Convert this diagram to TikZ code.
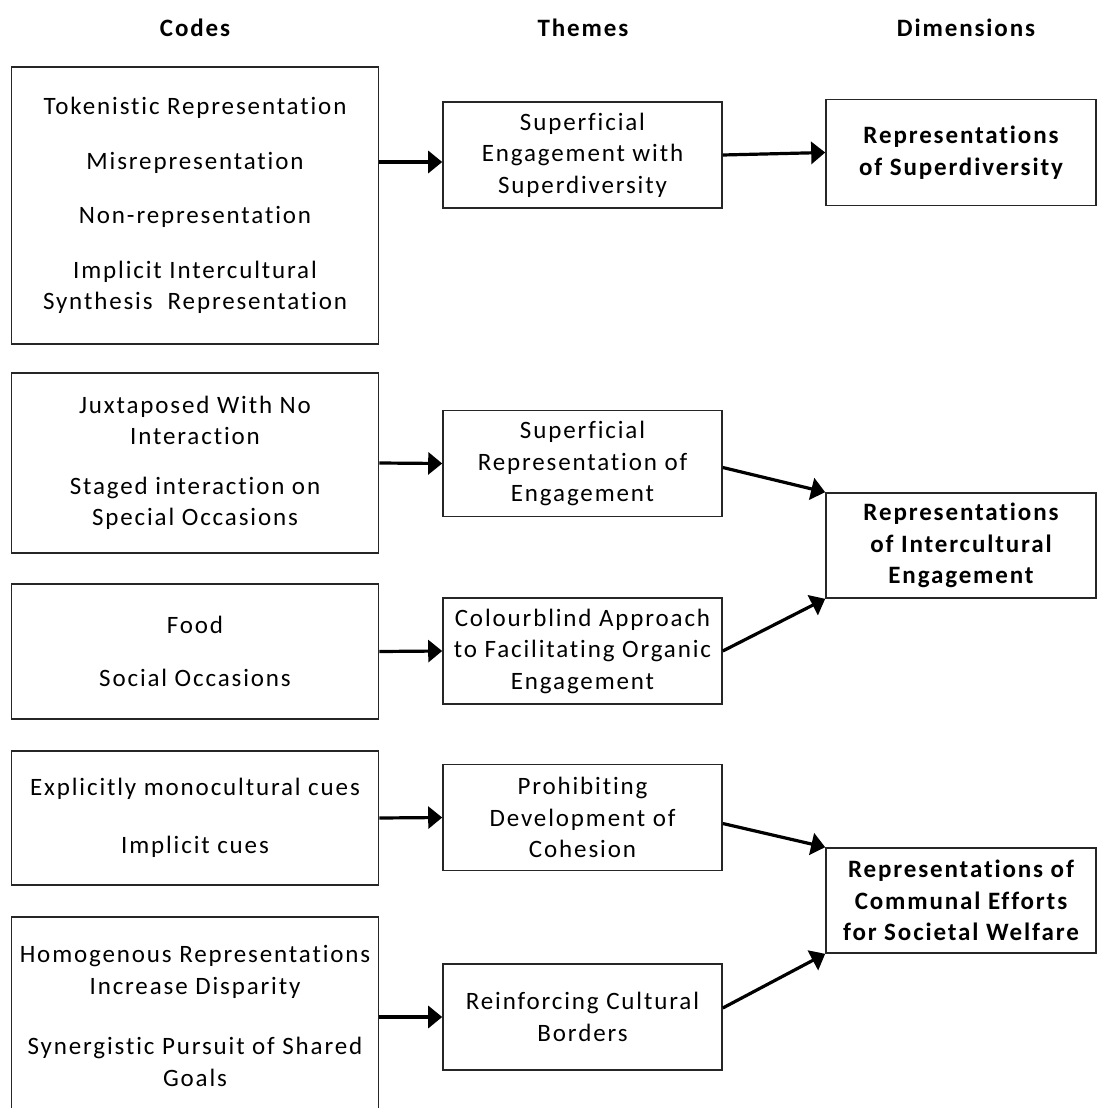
\documentclass[tikz,border=0pt]{standalone}
\usepackage{fontspec}
\setmainfont{Carlito}[LetterSpace=7.5, Ligatures={NoCommon,NoRare}]
\usetikzlibrary{arrows.meta}

\tikzset{
    box/.style={draw=black!85, line width=1.6pt, inner sep=0pt, align=center,
        font=\fontsize{25}{31.5}\selectfont},
    codebox/.style={box, minimum width=367pt},
    themebox/.style={box, minimum width=279pt, minimum height=106pt},
    dimbox/.style={box, minimum width=270pt, minimum height=106pt,
        font=\fontsize{25}{31.5}\selectfont\bfseries},
    header/.style={font=\fontsize{25}{30}\selectfont\bfseries},
    arr/.style={line width=3.2pt, -{Triangle[length=14pt,width=22pt]}}
}

\begin{document}
\begin{tikzpicture}[x=1pt, y=-1pt]
        % page size of the reference
        \useasboundingbox (0,0) rectangle (1097,1108);

        % Column headers
        \node[header] (hcodes) at (195,28) {Codes};
        \node[header] (hthemes) at (583,28) {Themes};
        \node[header] (hdims) at (966,28) {Dimensions};

        % Codes
        \node[codebox, minimum height=277pt] (C1) at (195,205.5)
            {Tokenistic Representation\\[23pt] Misrepresentation\\[23pt] Non-representation\\[23pt]
             Implicit Intercultural\\ Synthesis~ Representation};
        \node[codebox, minimum height=180pt] (C2) at (195,463)
            {Juxtaposed With No\\ Interaction\\[18pt] Staged interaction on\\ Special Occasions};
        \node[codebox, minimum height=135pt] (C3) at (195,651.5)
            {Food\\[22pt] Social Occasions};
        \node[codebox, minimum height=134pt] (C4) at (195,818)
            {Explicitly monocultural cues\\[27pt] Implicit cues};
        \node[codebox, minimum height=198pt] (C5) at (195,1016)
            {Homogenous Representations\\ Increase Disparity\\[29pt] Synergistic Pursuit of Shared\\ Goals};

        % Themes
        \node[themebox] (T1) at (582.5,155) {Superficial\\ Engagement with\\ Superdiversity};
        \node[themebox] (T2) at (582.5,463.5) {Superficial\\ Representation of\\ Engagement};
        \node[themebox] (T3) at (582.5,651) {Colourblind Approach\\ to Facilitating Organic\\ Engagement};
        \node[themebox] (T4) at (582.5,817.5) {Prohibiting\\ Development of\\ Cohesion};
        \node[themebox] (T5) at (582.5,1017) {Reinforcing Cultural\\ Borders};

        % Dimensions
        \node[dimbox] (D1) at (961,152.5) {Representations\\ of Superdiversity};
        \node[dimbox, minimum height=105pt] (D2) at (961,545.5) {Representations\\ of Intercultural\\ Engagement};
        \node[dimbox, minimum height=105pt] (D3) at (961,900.5) {Representations of\\ Communal Efforts\\ for Societal Welfare};

        % Codes to themes
        \draw[arr] ([yshift=-7pt]T1.west -| C1.east) -- ([yshift=-7pt]T1.west);
        \draw[arr] (C2.east) -- (T2.west);
        \draw[arr] (C3.east) -- (T3.west);
        \draw[arr] (C4.east) -- (T4.west);
        \draw[arr] (C5.east |- T5.west) -- (T5.west);

        % Themes to dimensions
        \draw[arr] (T1.east) -- (D1.west);
        \draw[arr] ([yshift=-4pt]T2.east) -- (D2.north west);
        \draw[arr] (T3.east) -- (D2.south west);
        \draw[arr] ([yshift=-6pt]T4.east) -- (D3.north west);
        \draw[arr] ([yshift=9pt]T5.east) -- (D3.south west);
    \end{tikzpicture}
\end{document}
